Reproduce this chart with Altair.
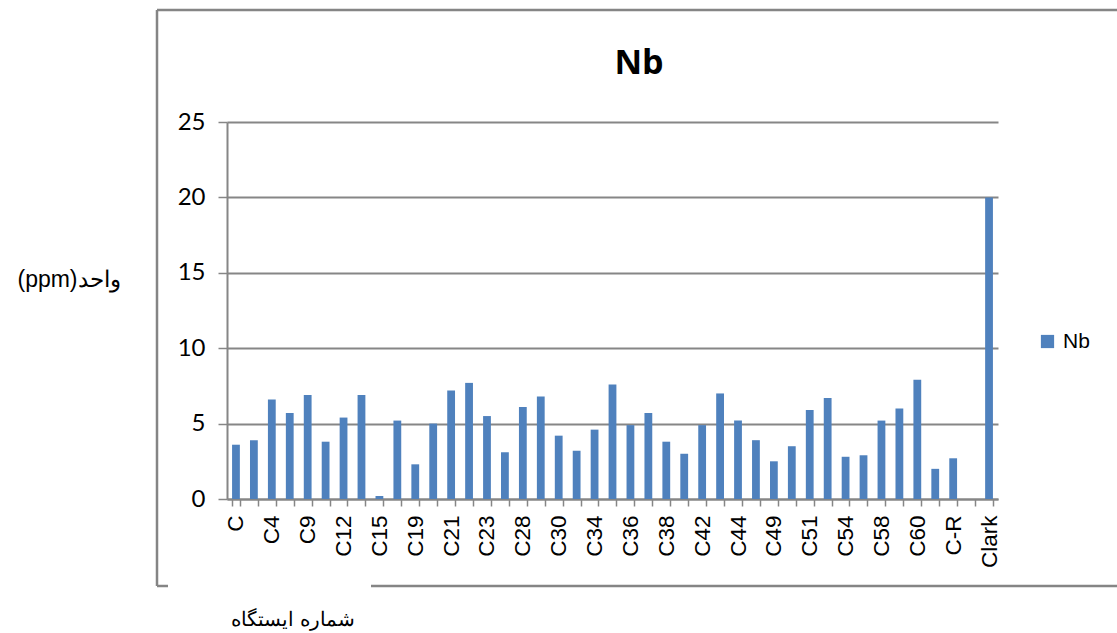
import altair as alt
import pandas as pd

# Sampling stations and their Nb content (ppm); the last one is the Clarke value
stations = [
    "C", "C2", "C4", "C6", "C9", "C10", "C12", "C13", "C15", "C17",
    "C19", "C20", "C21", "C22", "C23", "C25", "C28", "C29", "C30", "C32",
    "C34", "C35", "C36", "C37", "C38", "C40", "C42", "C43", "C44", "C47",
    "C49", "C50", "C51", "C53", "C54", "C56", "C58", "C59", "C60", "C61",
    "C-R", "-", "Clark",
]
nb_ppm = [
    3.6, 3.9, 6.6, 5.7, 6.9, 3.8, 5.4, 6.9, 0.2, 5.2,
    2.3, 5.0, 7.2, 7.7, 5.5, 3.1, 6.1, 6.8, 4.2, 3.2,
    4.6, 7.6, 4.9, 5.7, 3.8, 3.0, 4.9, 7.0, 5.2, 3.9,
    2.5, 3.5, 5.9, 6.7, 2.8, 2.9, 5.2, 6.0, 7.9, 2.0,
    2.7, None, 20.0,
]
# Station names printed on the category axis (every second one)
shown_labels = stations[::2]
y_ticks = [0, 5, 10, 15, 20, 25]

df = pd.DataFrame({"station": stations, "value": nb_ppm, "series": "Nb"})

W, H = 771, 377            # plot area
LEFT, TOP = 227, 122       # plot origin on the page
GRID = "#868686"
BAR = "#4F81BD"

label_list = "[" + ",".join("'" + s + "'" for s in shown_labels) + "]"

bars = alt.Chart(df).mark_bar(color=BAR).encode(
    x=alt.X(
        "station:N",
        sort=stations,
        scale=alt.Scale(paddingInner=0.565, paddingOuter=0.2825),
        axis=alt.Axis(
            title=None,
            labelAngle=270,
            labelAlign="right",
            labelBaseline="middle",
            labelFont="Liberation Sans",
            labelFontSize=22.5,
            labelColor="#000000",
            labelPadding=9,
            labelOverlap=False,
            labelExpr=f"indexof({label_list}, datum.value) >= 0 ? datum.value : ''",
            tickBand="extent",
            tickSize=7,
            tickColor=GRID,
            tickWidth=1.5,
            domainColor=GRID,
            domainWidth=2,
            grid=False,
        ),
    ),
    y=alt.Y(
        "value:Q",
        scale=alt.Scale(domain=[0, 25], nice=False),
        axis=alt.Axis(
            title=None,
            values=y_ticks,
            labelFont="Lato",
            labelFontSize=24,
            labelColor="#000000",
            labelPadding=13,
            tickSize=9,
            tickColor=GRID,
            tickWidth=1.5,
            domainColor=GRID,
            domainWidth=2,
            gridColor=GRID,
            gridWidth=2,
        ),
    ),
    color=alt.Color(
        "series:N",
        scale=alt.Scale(range=[BAR]),
        legend=alt.Legend(
            title=None,
            orient="none",
            legendX=1037 - LEFT,
            legendY=331 - TOP,
            symbolType="square",
            symbolSize=175,
            symbolStrokeWidth=0,
            labelFont="Liberation Sans",
            labelFontSize=21,
            labelColor="#000000",
            labelOffset=5,
        ),
    ),
)

one = alt.Data(values=[{}])
FRAME = "#858585"

def seg(x1, y1, x2, y2):
    return alt.Chart(one).mark_rule(color=FRAME, strokeWidth=2.5).encode(
        x=alt.value(x1 - LEFT), x2=alt.value(x2 - LEFT),
        y=alt.value(y1 - TOP), y2=alt.value(y2 - TOP),
    )

# Chart-area border (the bottom edge is interrupted by the station caption)
frame = (
    seg(157, 10, 1130, 10)
    + seg(157, 10, 157, 586)
    + seg(157, 586, 168, 586)
    + seg(371, 586, 1130, 586)
)

title = alt.Chart(one).mark_text(
    text="Nb", font="Open Sans", fontWeight="bold", fontSize=34, color="#000000",
    align="center", baseline="middle",
).encode(x=alt.value(639 - LEFT), y=alt.value(64 - TOP))

y_title = alt.Chart(one).mark_text(
    text="(ppm)واحد", font="Liberation Sans", fontSize=23, color="#000000",
    align="center", baseline="middle",
).encode(x=alt.value(69 - LEFT), y=alt.value(280 - TOP))

x_title = alt.Chart(one).mark_text(
    text="شماره ایستگاه", font="Liberation Sans", fontSize=20, color="#000000",
    align="center", baseline="middle",
).encode(x=alt.value(293 - LEFT), y=alt.value(620 - TOP))

chart = alt.layer(bars, frame, title, y_title, x_title).properties(
    width=W,
    height=H,
    autosize=alt.AutoSizeParams(type="none"),
    padding={"left": LEFT, "top": TOP, "right": 1117 - LEFT - W, "bottom": 633 - TOP - H},
    background="#ffffff",
).configure_view(stroke=None)

chart.save("out.html", embed_options={"renderer": "svg", "actions": False})
